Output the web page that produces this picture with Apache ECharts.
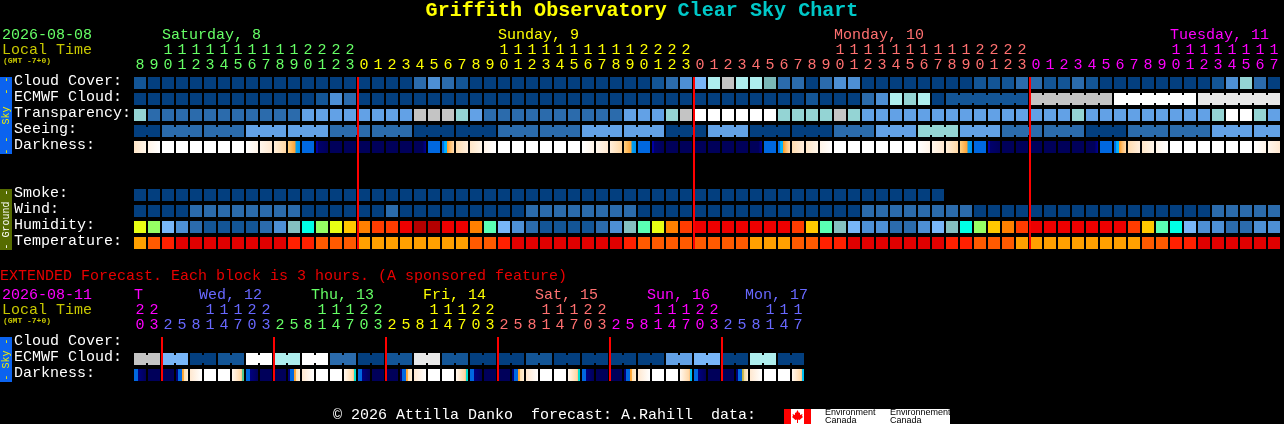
<!DOCTYPE html>
<html><head><meta charset="utf-8">
<style>html,body{margin:0;padding:0;background:#000}#c{width:1284px;height:424px}</style>
<script src="https://cdn.jsdelivr.net/npm/echarts@6/dist/echarts.min.js"></script>
</head><body><div id="c"></div>
<script>
// ---------- data ----------
const mainHours=[8,9,10,11,12,13,14,15,16,17,18,19,20,21,22,23,
0,1,2,3,4,5,6,7,8,9,10,11,12,13,14,15,16,17,18,19,20,21,22,23,
0,1,2,3,4,5,6,7,8,9,10,11,12,13,14,15,16,17,18,19,20,21,22,23,
0,1,2,3,4,5,6,7,8,9,10,11,12,13,14,15,16,17];
const extHours=[20,23,
2,5,8,11,14,17,20,23, 2,5,8,11,14,17,20,23, 2,5,8,11,14,17,20,23,
2,5,8,11,14,17,20,23, 2,5,8,11,14,17,20,23, 2,5,8,11,14,17];
const mainRows=['Cloud Cover:','ECMWF Cloud:','Transparency:','Seeing:','Darkness:',' ','  ','Smoke:','Wind:','Humidity:','Temperature:'];
const extRows=['Cloud Cover:','ECMWF Cloud:','Darkness:'];
const mainDayNames=['Saturday, 8','Sunday, 9','Monday, 10','Tuesday, 11'];
const mainDayCols=[2,26,50,74];
const mainMidnights=[16,40,64];
const extDayNames=['T','Wed, 12','Thu, 13','Fri, 14','Sat, 15','Sun, 16','Mon, 17'];
const extDayCols=[0,5,13,21,29,37,44];
const extMidnights=[2,10,18,26,34,42];

const cloudCover=[1,0,0,0,0,0,0,0,0,0, 0,0,0,0,0,0,0,0,0,0, 2,3,2,1,0,0,0,0,0,0, 0,0,0,0,0,0,0,1,2,3,
 5,7,8,7,7,11,2,2,0,2, 3,3,0,0,0,0,0,0,0,0, 1,1,1,2,2,1,1,2,1,0, 0,0,0,0,0,0,0,1,3,6, 2,0];
const ecmwfCloud=[0,0,0,0,0,0,0,0,0,0, 0,0,0,1,3,2,0,0,0,0, 0,0,0,0,0,0,0,0,0,0, 0,0,0,0,0,0,0,0,0,0,
 0,0,0,0,0,0,0,0,1,0, 0,0,2,3,7,6,7,0,1,1, 1,1,1,1,8,8,8,8,8,8, 10,10,10,10,10,10,9,9,9,9, 9,9];
const ecmwfMergedBlocks=[[58,63],[64,69],[70,75],[76,81]];
const transparency=[6,2,2,2,2,2,2,2,2,2, 2,2,4,4,4,4,4,4,4,4, 8,8,8,6,4,2,2,2,2,2, 2,2,2,2,2,4,4,4,6,8,
 10,10,10,10,10,10,6,6,6,6, 8,6,4,4,4,4,4,4,4,4, 4,4,4,4,4,4,4,6,4,4, 4,4,4,4,4,4,4,6,10,10, 6,4];
const seeingBlockSizes=[2,3,3,3,3,3,3,3,3,3,3,3,3,3,3,3,3,3,3,3,3,3,3,3,3,3,3,2];
const seeingBlockValues=[0,2,2,4,4,2,2,0,0,2,2,4,4,0,4,0,0,2,4,6,4,2,2,0,2,2,4,4];
const darkness=['A','Aa','W','W','W','W','W','W','C1','C2','C3','S','B','E','N','N','N','N','N','N','P','B','R','Q',
 'A','Aa','W','W','W','W','W','W','C1','C2','C3','S','B','E','N','N','N','N','N','N','P','B','R','Q',
 'A','Aa','W','W','W','W','W','W','C1','C2','C3','S','B','E','N','N','N','N','N','N','P','B','R','Q',
 'A','Aa','W','W','W','W','W','W','C1','C2'];
const smoke=[0,0,0,0,0,0,0,0,0,0, 0,0,0,0,0,0,0,0,0,0, 0,0,0,0,0,0,0,0,0,0, 0,0,0,0,0,0,0,0,0,0,
 0,0,0,0,0,0,0,0,0,0, 0,0,0,0,0,0,0,0];
const wind=[0,0,0,0,2,2,2,2,2,2, 2,2,0,0,0,0,0,0,2,0, 0,0,0,0,0,0,0,0,2,2, 2,2,2,2,2,2,0,0,0,0,
 0,0,0,0,0,0,0,0,0,0, 0,0,2,2,2,2,2,2,2,2, 0,0,0,0,0,0,0,0,0,0, 0,0,0,0,0,0,0,2,2,2, 2,2];
const humidity=[8,7,3,2,1,0,0,0,0,1, 2,4,5,7,8,9,10,11,11,12, 13,13,12,12,10,6,3,2,1,0, 0,0,0,1,2,4,6,8,10,11,
 12,12,12,12,12,12,12,11,9,6, 4,3,2,2,1,1,2,3,4,5, 7,9,10,11,12,12,12,12,12,12, 12,11,9,6,5,3,2,2,1,1, 2,2];
const temperature=[3,2,1,0,0,0,0,0,0,0, 0,1,1,2,2,2,3,3,3,3, 3,3,3,3,2,2,1,0,0,0, 0,0,0,0,0,1,2,2,2,2,
 2,2,2,2,3,3,3,2,2,1, 1,0,0,0,0,0,0,0,1,1, 2,2,2,3,3,3,3,3,3,3, 3,3,2,2,1,1,0,0,0,0, 0,0];
const extEcmwfPairs=[8,5,0,1,10,7,10,2,0,1,9,1,0,0,1,0,0,0,0,4,5,0,7,0];
const extDarkness=['D','N','N','Y','Z','W','W','V','D','N','N','Y','Z','W','W','V2','D','N','N','Y','Z','W','W','V2',
 'D','N','N','Y','Z','W','W','V2','D','N','N','Y','Z','W','W','V3','D','N','N','Y2','Z','W','W','V3'];

// ---------- styles ----------
const FONT='"Liberation Mono","DejaVu Sans Mono",monospace';
const GREEN='#66ff66',YELLOW='#ffff00',SALMON='#ff7070',MAGENTA='#ff00ff',BLUE='#6868ff';
const mainColors=[GREEN,YELLOW,SALMON,MAGENTA];
const extColors=[MAGENTA,BLUE,GREEN,YELLOW,SALMON,MAGENTA,BLUE];
const skyPalette=['#033f7f','#135596','#2b6bac','#4d8fd4','#62a1e6','#78b6f8','#94d4d4','#aeeeee','#c4c4c4','#e8e8e8','#ffffff','#7ab8b8'];
const humidityPalette=['#135596','#2b6bac','#4d8fd4','#78b6f8','#84c0c0','#00ffe6','#5affb4','#96ff64','#e8ff14','#ffc800','#ff8000','#ff3c00','#ee0000','#b40000'];
const tempPalette=['#e00000','#ff2000','#ff5a00','#ffa000'];
const ramps={
 W:[[0,'#ffffff'],[1,'#ffffff']],
 N:[[0,'#00005a'],[1,'#00005a']],
 B:[[0,'#0068e0'],[1,'#0068e0']],
 A:[[0,'#ffe6c8'],[1,'#fff6ea']],
 Aa:[[0,'#fff4e8'],[1,'#ffffff']],
 C1:[[0,'#ffffff'],[1,'#fff4e8']],
 C2:[[0,'#fff6ec'],[1,'#ffe8d0']],
 C3:[[0,'#ffeeda'],[1,'#ffd8a4']],
 S:[[0,'#ffd080'],[.62,'#ffa030'],[.63,'#00a0f0'],[1,'#0090f0']],
 E:[[0,'#0000a8'],[.17,'#0000a0'],[.18,'#00006c'],[1,'#00005a']],
 P:[[0,'#00005a'],[.7,'#00005a'],[1,'#000098']],
 R:[[0,'#0070e8'],[.2,'#0070e8'],[.21,'#00b4ff'],[.42,'#00b4ff'],[.43,'#ff9a20'],[.7,'#ffbf70'],[1,'#ffdcb0']],
 Q:[[0,'#ffdcb0'],[1,'#ffeedd']],
 D:[[0,'#0068e0'],[.33,'#0068e0'],[.34,'#000080'],[1,'#00005a']],
 Y:[[0,'#000078'],[.16,'#000078'],[.17,'#0068e0'],[.5,'#0068e0'],[.51,'#ffa030'],[.66,'#ffb040'],[.67,'#ffe0b0'],[1,'#fff0d8']],
 Y2:[[0,'#000078'],[.16,'#000078'],[.17,'#0068e0'],[.5,'#0068e0'],[.51,'#c0b040'],[.66,'#d0c060'],[.67,'#f0d8a0'],[1,'#fff0d8']],
 Z:[[0,'#ffe8d0'],[1,'#ffffff']],
 V:[[0,'#fff8f0'],[.72,'#ffd8a8'],[.83,'#ffc080'],[.84,'#50c890'],[1,'#50c890']],
 V2:[[0,'#fff8f0'],[.72,'#ffd8a8'],[.83,'#ffc080'],[.84,'#00e0d0'],[1,'#00e0d0']],
 V3:[[0,'#fff8f0'],[.72,'#ffd8a8'],[.83,'#ffc080'],[.84,'#00c0f0'],[1,'#00c0f0']]
};
function colFor(i,cols,first){let k=0;for(let j=0;j<first.length;j++)if(i>=first[j])k=j;return cols[k];}
const mainColorStart=[0,16,40,64];
const extColorStart=[0,2,10,18,26,34,42];

// ---------- renderers ----------
function cellChildren(api,fill,joined){
 const c=api.coord([api.value(0),api.value(1)]),s=api.size([1,1]);
 const x=c[0]-s[0]/2+1,y=c[1]-s[1]/2+1,w=s[0]-2,h=s[1]-4;
 const kids=[{type:'rect',shape:{x,y,width:w,height:h},style:{fill}}];
 if(joined)kids.push({type:'rect',shape:{x:x+w,y:y+2,width:2,height:h-4},style:{fill}});
 return {type:'group',children:kids};
}
function flatSeries(values,row,palette,axes,joinAt){
 return {type:'custom',...axes,clip:false,silent:true,encode:{x:0,y:1},
  data:values.map((v,i)=>[i,row,v,joinAt&&joinAt(i)?1:0]),
  renderItem:(p,api)=>cellChildren(api,palette[api.value(2)],api.value(3)===1)};
}
function rampSeries(codes,row,axes){
 return {type:'custom',...axes,clip:false,silent:true,encode:{x:0,y:1},
  data:codes.map((v,i)=>[i,row]),
  renderItem:(p,api)=>{
   const code=codes[api.value(0)];
   const fill=new echarts.graphic.LinearGradient(0,0,1,0,ramps[code].map(r=>({offset:r[0],color:r[1]})));
   return cellChildren(api,fill,false);
  }};
}
function midnightSeries(cols,lastRow,axes){
 return {type:'custom',...axes,clip:false,silent:true,z:10,encode:{x:0,y:1},
  data:cols.map(c=>[c,0]),
  renderItem:(p,api)=>{
   const c=api.coord([api.value(0),0]),e=api.coord([api.value(0),lastRow]),s=api.size([1,1]);
   return {type:'rect',z2:100,shape:{x:c[0]-s[0]/2,y:c[1]-s[1]/2+1,width:2,height:e[1]-c[1]+s[1]-4},style:{fill:'#ff0000'}};
  }};
}
// block helpers
const seeing=[],seeingJoin=[];
seeingBlockSizes.forEach((n,b)=>{for(let k=0;k<n;k++){seeing.push(seeingBlockValues[b]);seeingJoin.push(k<n-1);}});
const ecmwfJoin=i=>ecmwfMergedBlocks.some(b=>i>=b[0]&&i<b[1]);
const extEcmwf=[];extEcmwfPairs.forEach(v=>{extEcmwf.push(v,v);});

const M={xAxisIndex:0,yAxisIndex:0},X={xAxisIndex:2,yAxisIndex:1};
function xAx(grid,data,offset,fmt,colorFn){
 return {type:'category',gridIndex:grid,position:'top',offset,data:data.map(String),
  axisLine:{show:false},axisTick:{show:false},splitLine:{show:false},
  axisLabel:{show:true,interval:0,hideOverlap:false,margin:3,fontFamily:FONT,fontSize:15,formatter:fmt,color:colorFn}};
}
function yAx(grid,data){
 return {type:'category',gridIndex:grid,inverse:true,data,
  axisLine:{show:false},axisTick:{show:false},splitLine:{show:false},
  axisLabel:{show:true,interval:0,margin:119,align:'left',formatter:v=>'{r|'+v+'}',
   rich:{r:{color:'#ffffff',fontFamily:FONT,fontSize:15,lineHeight:15,padding:[0,0,6,0]}}}};
}
const units=h=>String(Number(h)%10), tens=h=>Number(h)>=10?String(Math.floor(Number(h)/10)):'';
const mc=(v,i)=>colFor(i,mainColors,mainColorStart), ec=(v,i)=>colFor(i,extColors,extColorStart);

const chart=echarts.init(document.getElementById('c'),null,{renderer:'canvas'});
chart.setOption({
 animation:false,backgroundColor:'#000000',
 title:{left:'center',top:1,padding:0,text:'{a|Griffith Observatory} {b|Clear Sky Chart}',
  textStyle:{fontFamily:FONT,rich:{
   a:{color:'#ffff00',fontFamily:FONT,fontWeight:'bold',fontSize:20.1},
   b:{color:'#00c8c8',fontFamily:FONT,fontWeight:'bold',fontSize:20.1}}}},
 grid:[{left:133,top:76,width:1148,height:176},{left:133,top:336,width:672,height:48}],
 xAxis:[xAx(0,mainHours,0,units,mc),xAx(0,mainHours,15,tens,mc),xAx(1,extHours,0,units,ec),xAx(1,extHours,15,tens,ec)],
 yAxis:[yAx(0,mainRows),yAx(1,extRows)],
 series:[
  flatSeries(cloudCover,0,skyPalette,M),
  flatSeries(ecmwfCloud,1,skyPalette,M,ecmwfJoin),
  flatSeries(transparency,2,skyPalette,M),
  flatSeries(seeing,3,skyPalette,M,i=>seeingJoin[i]),
  rampSeries(darkness,4,M),
  flatSeries(smoke,7,skyPalette,M),
  flatSeries(wind,8,skyPalette,M),
  flatSeries(humidity,9,humidityPalette,M),
  flatSeries(temperature,10,tempPalette,M),
  midnightSeries(mainMidnights,10,M),
  flatSeries(extEcmwf,1,skyPalette,X,i=>i%2===0),
  rampSeries(extDarkness,2,X),
  midnightSeries(extMidnights,2,X)
 ]
});
const bandLeft=(axis,col)=>chart.convertToPixel({xAxisIndex:axis},col)-7;
const txt=(x,y,t,fill,extra)=>({type:'text',silent:true,x,y,style:Object.assign({text:t,fill,font:'15px '+FONT,textVerticalAlign:'middle',verticalAlign:'middle'},extra||{})});
const side=(x,y,h,bg,t,fg)=>[
 {type:'rect',silent:true,shape:{x,y,width:12,height:h},style:{fill:bg}},
 {type:'text',silent:true,x:x+6,y:y+h/2,rotation:Math.PI/2,style:{text:t,fill:fg,font:'10px '+FONT,align:'center',verticalAlign:'middle'}}
];
const els=[];
els.push(txt(2,35,'2026-08-08',GREEN),txt(2,50,'Local Time','#c8c800'),
 txt(3,61,'(GMT -7+0)','#c8c800',{font:'bold 8px '+FONT}));
mainDayNames.forEach((n,i)=>els.push(txt(bandLeft(0,mainDayCols[i])+1,35,n,mainColors[i])));
els.push(...side(0,77,77,'#0b63ef','- -  Sky  - -','#f0f000'));
els.push(...side(0,189,61,'#566c00','- Ground -','#ffffff'));
els.push(txt(0,276,'EXTENDED Forecast. Each block is 3 hours. (A sponsored feature)','#e80000'));
els.push(txt(2,295,'2026-08-11',MAGENTA),txt(2,310,'Local Time','#c8c800'),
 txt(3,321,'(GMT -7+0)','#c8c800',{font:'bold 8px '+FONT}));
extDayNames.forEach((n,i)=>els.push(txt(bandLeft(2,extDayCols[i])+(i===0?1:-4),295,n,extColors[i])));
els.push(...side(0,337,45,'#0b63ef','- Sky -','#f0f000'));
els.push(txt(333,415,'\u00a9 2026 Attilla Danko  forecast: A.Rahill  data:','#ffffff'));
// Environment Canada wordmark
els.push({type:'rect',silent:true,shape:{x:784,y:409,width:166,height:15},style:{fill:'#ffffff'}});
els.push({type:'rect',silent:true,shape:{x:784,y:409,width:7,height:15},style:{fill:'#ff0000'}});
els.push({type:'rect',silent:true,shape:{x:804,y:409,width:7,height:15},style:{fill:'#ff0000'}});
els.push({type:'polygon',silent:true,shape:{points:[[797.5,410],[799,413],[800,412.5],[800,415],[802.5,414],[802,416],[803,417],[799.5,420],[798,419.5],[798,423],[797,423],[797,419.5],[795.5,420],[792,417],[793,416],[792.5,414],[795,415],[795,412.5],[796,413]]},style:{fill:'#ff0000'}});
const lf='9px "Liberation Sans",sans-serif';
els.push(txt(825,413,'Environment','#000',{font:lf}),txt(825,420.5,'Canada','#000',{font:lf}),
 txt(890,413,'Environnement','#000',{font:lf}),txt(890,420.5,'Canada','#000',{font:lf}));
chart.setOption({graphic:{elements:els}});
</script></body></html>
